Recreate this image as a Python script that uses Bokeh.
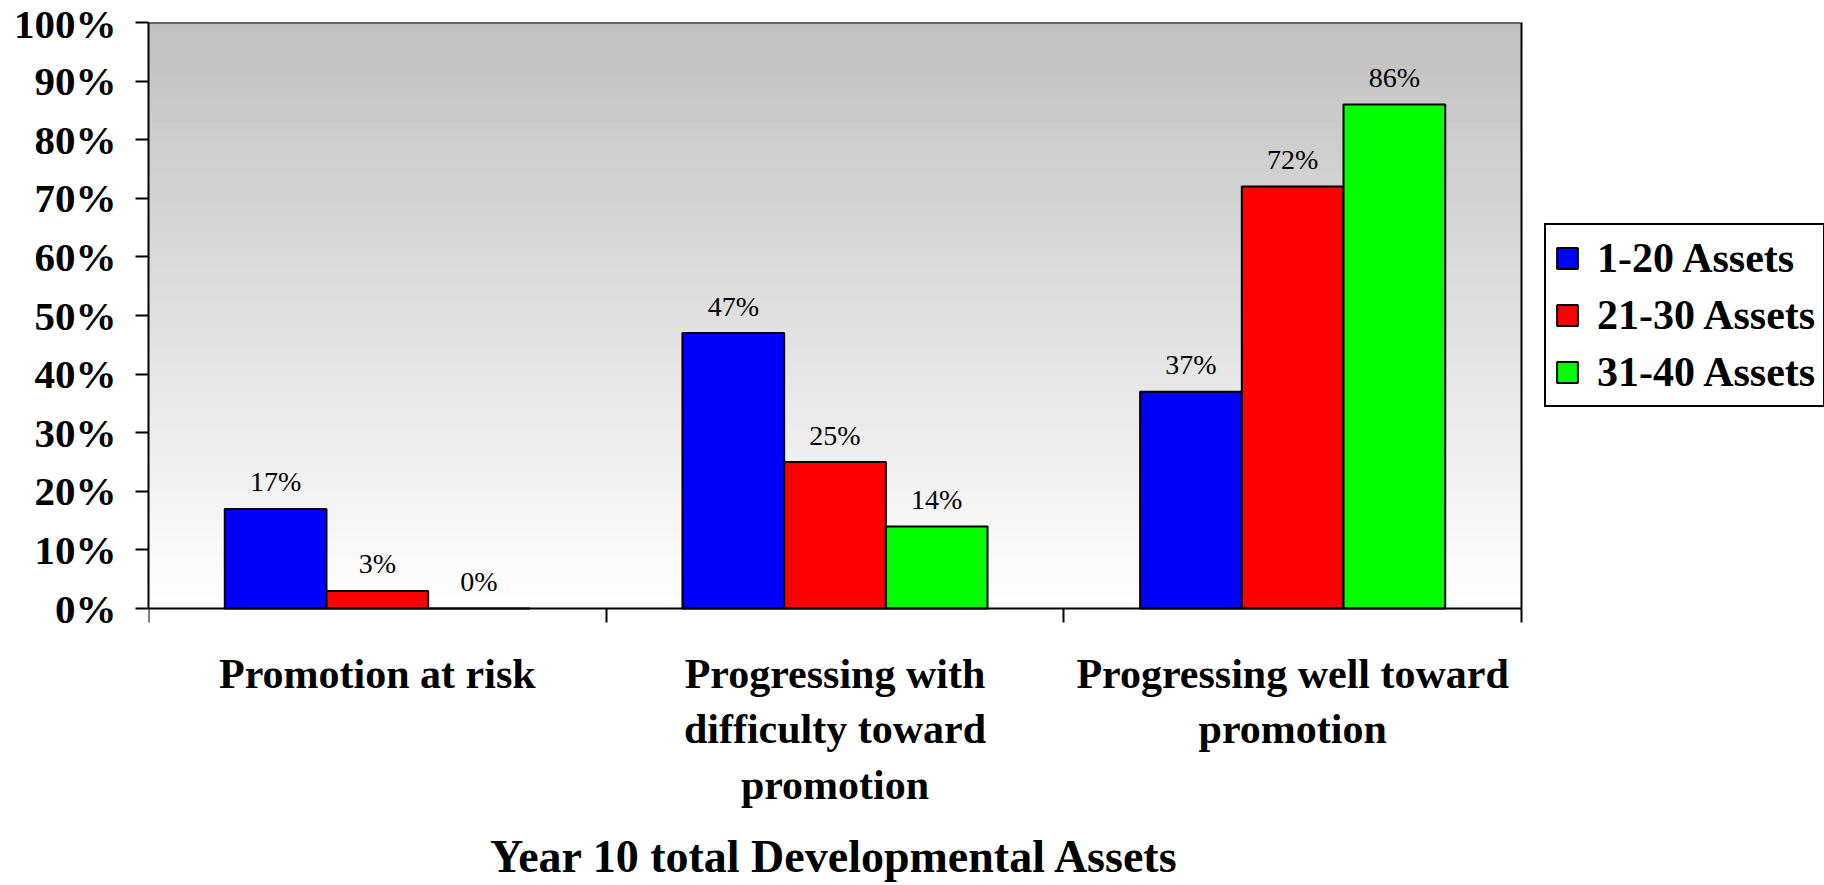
from bokeh.plotting import figure
from bokeh.models import (Range1d, FixedTicker, PrintfTickFormatter, Legend, LegendItem,
                          ColumnDataSource)
from bokeh.core.properties import value
from bokeh.embed import file_html
from bokeh.resources import INLINE

# ---------------- data ----------------
categories = ["Promotion at risk",
              "Progressing with\ndifficulty toward\npromotion",
              "Progressing well toward\npromotion"]
series_names = ["1-20 Assets", "21-30 Assets", "31-40 Assets"]
series_colors = ["#0000FF", "#FF0000", "#00FF00"]
assets_1_20 = [17, 47, 37]
assets_21_30 = [3, 25, 72]
assets_31_40 = [0, 14, 86]
y_ticks = [0, 10, 20, 30, 40, 50, 60, 70, 80, 90, 100]
x_title = "Year 10 total Developmental Assets"

series_values = [assets_1_20, assets_21_30, assets_31_40]

# ---------------- layout (figure pixels) ----------------
W, H = 1824, 885
FL, FT = 148, 22            # left / top of the frame
AX_R, AX_B = 1521, 608      # right edge and baseline of the visible plot area
n_cat = len(categories)
y_max = 100.0
px_per_x = (AX_R - FL) / n_cat
px_per_y = (AX_B - FT) / y_max
x_end = (W - FL) / px_per_x
y_start = -(H - AX_B) / px_per_y

SERIF = "Liberation Serif"

p = figure(width=W, height=H, output_backend="svg", toolbar_location=None,
           x_range=Range1d(0, x_end), y_range=Range1d(y_start, y_max),
           min_border_left=FL, min_border_right=0,
           min_border_top=FT, min_border_bottom=0,
           background_fill_color="white", border_fill_color="white")
p.grid.visible = False
p.outline_line_color = None

# gradient background of the plot area (grey at top to white at bottom)
n_steps = 100
g_bottom, g_top, g_cols = [], [], []
for i in range(n_steps):
    y0 = y_max * i / n_steps
    y1 = y_max * (i + 1) / n_steps
    frac = (y0 + y1) / (2 * y_max)
    lvl = int(round(255 - (255 - 192) * frac))
    g_bottom.append(y0)
    g_top.append(y1)
    g_cols.append("#%02x%02x%02x" % (lvl, lvl, lvl))
p.quad(left=0, right=n_cat, bottom=g_bottom, top=g_top,
       fill_color=g_cols, line_color=g_cols, line_width=1)
# plot-area border (top and right sides)
p.line(x=[0, n_cat, n_cat], y=[y_max, y_max, 0], line_color="black", line_width=2)

# bars
bar_w = 1 / 4.5
renderers = []
for si, (name, col, vals) in enumerate(zip(series_names, series_colors, series_values)):
    xs = [ci + 0.5 + (si - 1) * bar_w for ci in range(n_cat)]
    src = ColumnDataSource(dict(x=xs, top=vals, lab=["%d%%" % v for v in vals]))
    r = p.vbar(x="x", top="top", width=bar_w, bottom=0, source=src,
               fill_color=col, line_color="black", line_width=2)
    renderers.append(r)
    p.text(x="x", y="top", text="lab", source=src, y_offset=-27,
           text_align="center", text_baseline="alphabetic",
           text_font=value(SERIF), text_font_size="28px", text_color="black")

# y axis
ya = p.yaxis[0]
ya.bounds = (0, y_max)
ya.ticker = FixedTicker(ticks=y_ticks)
ya.formatter = PrintfTickFormatter(format="%d%%")
ya.major_label_text_font = SERIF
ya.major_label_text_font_style = "bold"
ya.major_label_text_font_size = "41px"
ya.major_label_text_color = "black"
ya.major_tick_out = 13
ya.major_tick_in = 0
ya.minor_tick_out = 0
ya.minor_tick_in = 0
ya.major_label_standoff = 19
ya.axis_line_width = 2
ya.major_tick_line_width = 2

# x axis at y = 0: labels at category centres, tick marks at category boundaries
centres = [ci + 0.5 for ci in range(n_cat)]
xa = p.xaxis[0]
xa.fixed_location = 0
xa.bounds = (0, n_cat)
xa.ticker = FixedTicker(ticks=centres, minor_ticks=list(range(n_cat + 1)))
xa.major_label_overrides = {c: cat for c, cat in zip(centres, categories)}
xa.major_label_text_font = SERIF
xa.major_label_text_font_style = "bold"
xa.major_label_text_font_size = "42px"
xa.major_label_text_line_height = 1.21
xa.major_label_text_color = "black"
xa.major_label_orientation = "horizontal"
xa.major_label_standoff = 28
xa.major_tick_out = 0
xa.major_tick_in = 0
xa.minor_tick_out = 14
xa.minor_tick_in = 0
xa.minor_tick_line_width = 2
xa.minor_tick_line_color = "black"
xa.axis_line_width = 2
xa.axis_label = x_title
xa.axis_label_text_font = SERIF
xa.axis_label_text_font_style = "bold"
xa.axis_label_text_font_size = "46px"
xa.axis_label_text_line_height = 0.6
xa.axis_label_text_color = "black"
xa.axis_label_standoff = 20

# legend, to the right of the plot area
legend = Legend(items=[LegendItem(label=n, renderers=[r]) for n, r in zip(series_names, renderers)],
                location=(1544 - FL, H - 407))
legend.label_text_font = SERIF
legend.label_text_font_style = "bold"
legend.label_text_font_size = "42px"
legend.label_text_color = "black"
legend.glyph_width = 26
legend.glyph_height = 26
legend.label_standoff = 17
legend.padding = 8
legend.spacing = 7
legend.label_height = 50
legend.border_line_color = "black"
legend.border_line_width = 2
legend.border_line_alpha = 1.0
legend.background_fill_color = "white"
legend.background_fill_alpha = 1.0
p.add_layout(legend, "center")

open("out.html", "w").write(file_html(p, INLINE))
